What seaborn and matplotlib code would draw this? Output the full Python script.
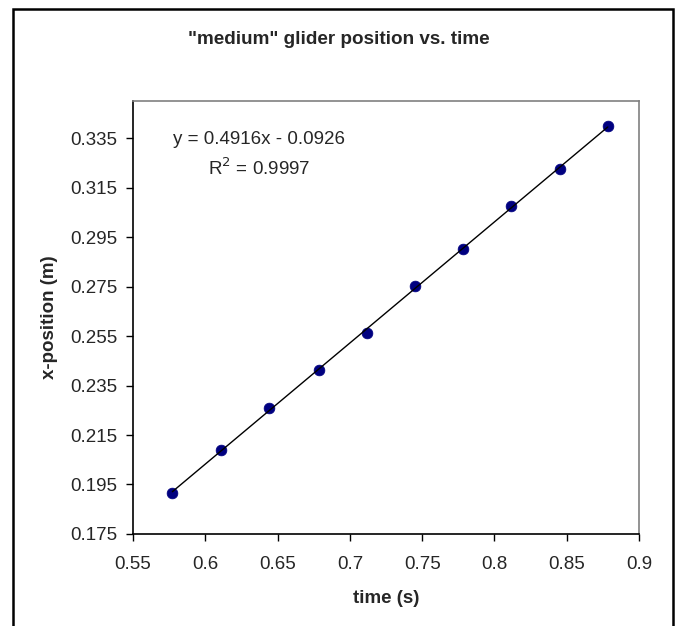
import matplotlib
matplotlib.use('Agg')
import matplotlib.pyplot as plt
import seaborn as sns
import pandas as pd
from matplotlib.patches import Rectangle

# readings
time_s = [0.5772, 0.6107, 0.6441, 0.6784, 0.7117, 0.7449, 0.7783, 0.8117, 0.8451, 0.8784]
x_pos = [0.1917, 0.2088, 0.2259, 0.2411, 0.2563, 0.2753, 0.2903, 0.3074, 0.3226, 0.3397]
x_ticks = [0.55, 0.6, 0.65, 0.7, 0.75, 0.8, 0.85, 0.9]
x_ticklabels = ['0.55', '0.6', '0.65', '0.7', '0.75', '0.8', '0.85', '0.9']
y_ticks = [0.175, 0.195, 0.215, 0.235, 0.255, 0.275, 0.295, 0.315, 0.335]
y_ticklabels = ['0.175', '0.195', '0.215', '0.235', '0.255', '0.275', '0.295', '0.315', '0.335']

df = pd.DataFrame({'time': time_s, 'pos': x_pos})

sns.set_style('white')
plt.rcParams['font.family'] = ['Liberation Sans', 'DejaVu Sans']

FS = 13.5

fig = plt.figure(figsize=(6.78, 6.26), dpi=100)
ax = fig.add_axes([0.1962, 0.147, 0.7463, 0.6917])

sns.regplot(data=df, x='time', y='pos', ci=None, ax=ax,
            scatter_kws=dict(s=60, color='#000080', edgecolor='#000080', linewidths=0.5,
                             alpha=1, zorder=3),
            line_kws=dict(color='black', lw=1.0, zorder=4))

ax.set_xlim(0.55, 0.9)
ax.set_ylim(0.175, 0.35)
ax.set_xticks(x_ticks)
ax.set_xticklabels(x_ticklabels)
ax.set_yticks(y_ticks)
ax.set_yticklabels(y_ticklabels)
ax.tick_params(axis='both', direction='out', length=5, width=1, color='black',
               labelsize=FS, left=True, bottom=True)
ax.tick_params(axis='y', pad=6)
ax.tick_params(axis='x', pad=11)

for side in ['left', 'bottom']:
    ax.spines[side].set_color('black')
    ax.spines[side].set_linewidth(1.2)
for side in ['top', 'right']:
    ax.spines[side].set_color('#808080')
    ax.spines[side].set_linewidth(1.2)

ax.set_xlabel('time (s)', fontsize=FS, fontweight='bold', labelpad=12)
ax.set_ylabel('x-position (m)', fontsize=FS, fontweight='bold', labelpad=9)

fig.text(0.5, 1 - 39 / 626, '"medium" glider position vs. time', ha='center', va='center',
         fontsize=13.6, fontweight='bold')

fig.text(259 / 678, 1 - 139 / 626, 'y = 0.4916x - 0.0926', ha='center', va='center', fontsize=FS)
fig.text(259 / 678, 1 - 168 / 626, r'R$^2$ = 0.9997', ha='center', va='center', fontsize=FS)

# chart area border (runs off the bottom edge, as in the original)
fig.patches.append(Rectangle((13 / 678, -0.05), (673 - 13) / 678, 1 - 9 / 626 + 0.05,
                             transform=fig.transFigure, fill=False, edgecolor='black',
                             linewidth=1.8, clip_on=False))

fig.savefig('out.png', dpi=100)
